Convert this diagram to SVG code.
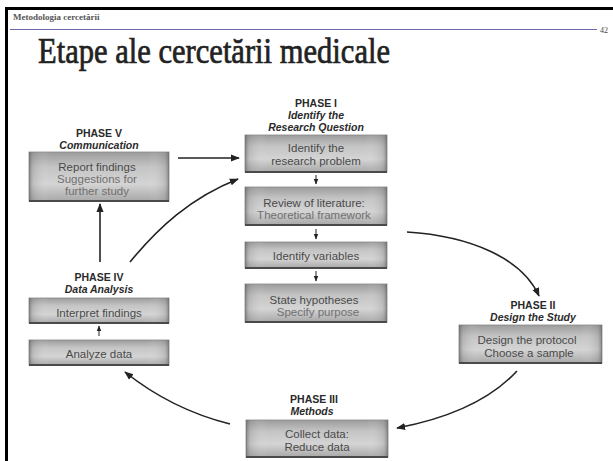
<svg xmlns="http://www.w3.org/2000/svg" width="613" height="461" viewBox="0 0 613 461">
<defs>
<linearGradient id="gv" x1="0" y1="0" x2="0" y2="1">
<stop offset="0" stop-color="#9c9c9c"/>
<stop offset="0.3" stop-color="#c4c4c4"/>
<stop offset="0.65" stop-color="#d4d4d4"/>
<stop offset="1" stop-color="#a8a8a8"/>
</linearGradient>
<linearGradient id="gh" x1="0" y1="0" x2="1" y2="0">
<stop offset="0" stop-color="#555555" stop-opacity="0.6"/>
<stop offset="0.03" stop-color="#808080" stop-opacity="0.25"/>
<stop offset="0.15" stop-color="#ffffff" stop-opacity="0"/>
<stop offset="0.85" stop-color="#ffffff" stop-opacity="0"/>
<stop offset="0.97" stop-color="#808080" stop-opacity="0.25"/>
<stop offset="1" stop-color="#555555" stop-opacity="0.6"/>
</linearGradient>
<marker id="ah" viewBox="0 0 10 10" refX="9" refY="5" markerWidth="9" markerHeight="9" markerUnits="userSpaceOnUse" orient="auto">
<path d="M0,1 L10,5 L0,9 z" fill="#222"/>
</marker>
<marker id="sh" viewBox="0 0 10 10" refX="9" refY="5" markerWidth="6" markerHeight="6" markerUnits="userSpaceOnUse" orient="auto">
<path d="M0,1 L10,5 L0,9 z" fill="#222"/>
</marker>
</defs>
<style>
.hdr{font-family:"Liberation Serif",serif;font-weight:bold;font-size:9px;fill:#555}
.pg{font-family:"Liberation Serif",serif;font-size:8px;fill:#444}
.title{font-family:"Liberation Serif",serif;font-size:35px;fill:#222;stroke:#222;stroke-width:0.7}
.ph{font-family:"Liberation Sans",Arial,sans-serif;font-weight:bold;font-size:10.5px;fill:#2a2a2a;text-anchor:middle}
.sub{font-family:"Liberation Sans",Arial,sans-serif;font-weight:bold;font-style:italic;font-size:10.5px;fill:#2a2a2a;text-anchor:middle}
.bt{font-family:"Liberation Sans",Arial,sans-serif;font-size:11.5px;fill:#4a4a4a;text-anchor:middle}
.bt2{font-family:"Liberation Sans",Arial,sans-serif;font-size:11.5px;fill:#707070;text-anchor:middle}
.box{fill:url(#gv);stroke:#888;stroke-width:0.8}
.shade{fill:url(#gh)}
.base{stroke:#4a4a4a;stroke-width:2}
.conn{fill:none;stroke:#222;stroke-width:1.6}
.sconn{fill:none;stroke:#222;stroke-width:1}
</style>
<rect width="613" height="461" fill="#ffffff"/>
<rect x="5" y="7" width="608" height="3" fill="#000"/>
<rect x="5" y="7" width="3" height="454" fill="#000"/>
<text class="hdr" x="13" y="20">Metodologia cercetării</text>
<line x1="10" y1="29.5" x2="597" y2="29.5" stroke="#6a6aa8" stroke-width="1"/>
<text class="pg" x="600" y="33">42</text>
<text class="title" x="38" y="63" textLength="352" lengthAdjust="spacingAndGlyphs">Etape ale cercetării medicale</text>

<g id="connectors">
<path class="conn" d="M178,158 L239,158" marker-end="url(#ah)"/>
<path class="conn" d="M100,262 L100,204" marker-end="url(#ah)"/>
<path class="conn" d="M130,262 C158,228 190,198 238,179" marker-end="url(#ah)"/>
<path class="conn" d="M407,232 C470,236 522,258 539,296" marker-end="url(#ah)"/>
<path class="conn" d="M517,371 C490,400 450,418 397,428" marker-end="url(#ah)"/>
<path class="conn" d="M230,424 C190,414 155,396 125,372" marker-end="url(#ah)"/>
<path class="sconn" d="M316,175 L316,184" marker-end="url(#sh)"/>
<path class="sconn" d="M316,229 L316,239" marker-end="url(#sh)"/>
<path class="sconn" d="M316,271 L316,281" marker-end="url(#sh)"/>
<path class="sconn" d="M99,336 L99,326" marker-end="url(#sh)"/>
</g>

<g id="phase5">
<text class="ph" x="99" y="137">PHASE V</text>
<text class="sub" x="99" y="149">Communication</text>
<rect class="box" x="29" y="152" width="140" height="49"/>
<rect class="shade" x="29" y="152" width="140" height="49"/>
<line class="base" x1="29" y1="201" x2="169" y2="201"/>
<text class="bt" x="97" y="171">Report findings</text>
<text class="bt2" x="97" y="183">Suggestions for</text>
<text class="bt2" x="97" y="195">further study</text>
</g>

<g id="phase1">
<text class="ph" x="316" y="107">PHASE I</text>
<text class="sub" x="316" y="119">Identify the</text>
<text class="sub" x="316" y="131">Research Question</text>
<rect class="box" x="245" y="135" width="142" height="37"/>
<rect class="shade" x="245" y="135" width="142" height="37"/>
<line class="base" x1="245" y1="172" x2="387" y2="172"/>
<text class="bt" x="316" y="152">Identify the</text>
<text class="bt" x="316" y="165">research problem</text>
</g>

<g id="review">
<rect class="box" x="245" y="187" width="142" height="38"/>
<rect class="shade" x="245" y="187" width="142" height="38"/>
<line class="base" x1="245" y1="225" x2="387" y2="225"/>
<text class="bt" x="314" y="207">Review of literature:</text>
<text class="bt2" x="314" y="219">Theoretical framework</text>
</g>

<g id="variables">
<rect class="box" x="245" y="242" width="142" height="26"/>
<rect class="shade" x="245" y="242" width="142" height="26"/>
<line class="base" x1="245" y1="268" x2="387" y2="268"/>
<text class="bt" x="316" y="260">Identify variables</text>
</g>

<g id="hypotheses">
<rect class="box" x="245" y="284" width="142" height="38"/>
<rect class="shade" x="245" y="284" width="142" height="38"/>
<line class="base" x1="245" y1="322" x2="387" y2="322"/>
<text class="bt" x="314" y="304">State hypotheses</text>
<text class="bt2" x="318" y="316">Specify purpose</text>
</g>

<g id="phase2">
<text class="ph" x="533" y="309">PHASE II</text>
<text class="sub" x="533" y="321">Design the Study</text>
<rect class="box" x="459" y="325" width="143" height="38"/>
<rect class="shade" x="459" y="325" width="143" height="38"/>
<line class="base" x1="459" y1="363" x2="602" y2="363"/>
<text class="bt" x="527" y="344">Design the protocol</text>
<text class="bt" x="529" y="357">Choose a sample</text>
</g>

<g id="phase3">
<text class="ph" x="314" y="403">PHASE III</text>
<text class="sub" x="312" y="415">Methods</text>
<rect class="box" x="246" y="420" width="142" height="37"/>
<rect class="shade" x="246" y="420" width="142" height="37"/>
<line class="base" x1="246" y1="457" x2="388" y2="457"/>
<text class="bt" x="317" y="438">Collect data:</text>
<text class="bt" x="317" y="451">Reduce data</text>
</g>

<g id="phase4">
<text class="ph" x="99" y="281">PHASE IV</text>
<text class="sub" x="99" y="293">Data Analysis</text>
<rect class="box" x="29" y="298" width="140" height="25"/>
<rect class="shade" x="29" y="298" width="140" height="25"/>
<line class="base" x1="29" y1="323" x2="169" y2="323"/>
<text class="bt" x="99" y="317">Interpret findings</text>
</g>

<g id="analyze">
<rect class="box" x="29" y="340" width="140" height="25"/>
<rect class="shade" x="29" y="340" width="140" height="25"/>
<line class="base" x1="29" y1="365" x2="169" y2="365"/>
<text class="bt" x="99" y="358">Analyze data</text>
</g>
</svg>
